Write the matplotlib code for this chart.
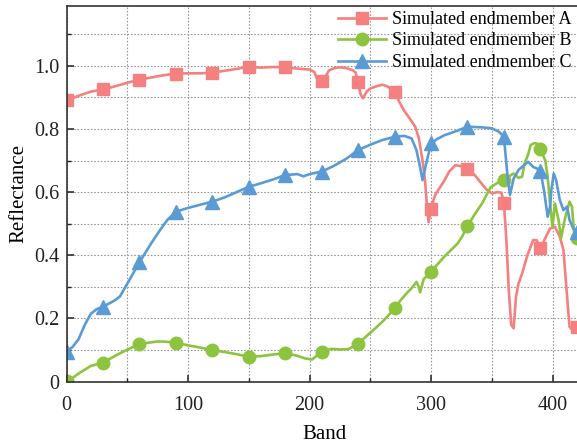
import matplotlib
matplotlib.use("Agg")
import matplotlib.pyplot as plt
from matplotlib.ticker import MultipleLocator, FuncFormatter

plt.rcParams['font.family'] = 'serif'
plt.rcParams['font.serif'] = ['Liberation Serif', 'DejaVu Serif']

# endmember A (red)
bands_a = [0, 10, 20, 30, 40, 50, 60, 70, 80, 90, 100, 110, 120, 130, 140, 150,
           160, 170, 180, 190, 200, 204, 207, 210, 213, 216, 220, 225, 230, 236,
           238, 240, 242, 244, 247, 250, 255, 260, 264, 270, 274, 278, 283, 287,
           290, 293, 295, 297, 298, 300, 302, 304, 306, 310, 315, 320, 325, 330,
           336, 341, 346, 350, 355, 358, 360, 362, 364, 366, 368, 370, 372, 375,
           379, 381, 384, 387, 390, 394, 398, 402, 406, 409, 412, 414, 417, 420]
refl_a = [0.890, 0.905, 0.918, 0.925, 0.935, 0.946, 0.956, 0.963, 0.970, 0.975,
          0.976, 0.976, 0.978, 0.984, 0.990, 0.997, 0.994, 0.996, 0.995, 0.991,
          0.988, 0.980, 0.950, 0.953, 0.965, 0.985, 0.992, 0.995, 0.993, 0.985,
          0.978, 0.948, 0.910, 0.897, 0.918, 0.928, 0.935, 0.940, 0.935, 0.918,
          0.885, 0.857, 0.830, 0.807, 0.770, 0.700, 0.640, 0.540, 0.505, 0.545,
          0.575, 0.595, 0.607, 0.630, 0.665, 0.685, 0.682, 0.672, 0.654, 0.630,
          0.607, 0.596, 0.600, 0.598, 0.565, 0.450, 0.290, 0.180, 0.169, 0.270,
          0.310, 0.343, 0.396, 0.417, 0.448, 0.448, 0.422, 0.454, 0.485, 0.490,
          0.459, 0.417, 0.269, 0.174, 0.161, 0.174]

# endmember B (green)
bands_b = [0, 5, 10, 20, 30, 41, 52, 60, 74, 80, 90, 100, 110, 120, 130, 140,
           150, 160, 170, 180, 190, 196, 202, 210, 218, 225, 232, 240, 248, 255,
           260, 265, 270, 275, 280, 285, 288, 290, 291, 294, 300, 305, 311, 316,
           322, 326, 330, 336, 342, 349, 355, 360, 365, 368, 372, 375, 377, 380,
           382, 385, 387, 390, 394, 396, 398, 400, 402, 405, 407, 410, 414, 416,
           418, 420]
refl_b = [0.003, 0.012, 0.026, 0.050, 0.060, 0.084, 0.105, 0.119, 0.127, 0.127,
          0.124, 0.115, 0.108, 0.100, 0.094, 0.087, 0.079, 0.081, 0.086, 0.090,
          0.082, 0.074, 0.070, 0.095, 0.104, 0.102, 0.103, 0.120, 0.148, 0.172,
          0.190, 0.210, 0.232, 0.258, 0.280, 0.300, 0.316, 0.300, 0.283, 0.325,
          0.346, 0.370, 0.396, 0.415, 0.438, 0.462, 0.493, 0.530, 0.564, 0.615,
          0.630, 0.638, 0.652, 0.659, 0.645, 0.649, 0.690, 0.720, 0.749, 0.755,
          0.754, 0.735, 0.701, 0.649, 0.564, 0.490, 0.564, 0.512, 0.454, 0.512,
          0.570, 0.554, 0.459, 0.455]

# endmember C (blue)
bands_c = [0, 5, 10, 15, 20, 25, 30, 40, 44, 50, 60, 70, 77, 83, 90, 100, 110,
           120, 130, 140, 150, 160, 170, 180, 190, 195, 200, 210, 220, 230, 240,
           250, 260, 270, 278, 284, 288, 291, 293, 296, 300, 305, 311, 320, 330,
           336, 342, 350, 356, 360, 363, 365, 368, 372, 376, 380, 384, 387, 390,
           393, 396, 398, 399, 401, 403, 406, 409, 412, 414, 417, 420]
refl_c = [0.095, 0.110, 0.135, 0.180, 0.215, 0.230, 0.237, 0.258, 0.270, 0.310,
          0.378, 0.440, 0.480, 0.512, 0.538, 0.550, 0.560, 0.570, 0.583, 0.600,
          0.617, 0.628, 0.640, 0.654, 0.657, 0.650, 0.657, 0.665, 0.683, 0.705,
          0.733, 0.750, 0.765, 0.775, 0.778, 0.770, 0.733, 0.680, 0.638, 0.690,
          0.754, 0.768, 0.780, 0.792, 0.807, 0.806, 0.805, 0.802, 0.791, 0.775,
          0.649, 0.591, 0.643, 0.670, 0.683, 0.696, 0.680, 0.675, 0.668, 0.606,
          0.522, 0.554, 0.606, 0.659, 0.638, 0.575, 0.543, 0.554, 0.512, 0.485,
          0.475]

labels = ["Simulated endmember A", "Simulated endmember B", "Simulated endmember C"]
colors = ["#F4817F", "#8DC43F", "#5B9BD5"]
markers = ["s", "o", "^"]


def marker_idx(bands):
    # a marker every 30 bands
    return [i for i, b in enumerate(bands) if b % 30 == 0]


fig = plt.figure(figsize=(5.77, 4.46), dpi=100)
ax = fig.add_axes([0.1153, 0.1442, 0.8949, 0.8430])

series = [(bands_a, refl_a), (bands_b, refl_b), (bands_c, refl_c)]
for (x, y), label, c, m in zip(series, labels, colors, markers):
    ms = 9 if m != "^" else 9.5
    ax.plot(x, y, color=c, lw=1.9, marker=m, ms=ms, markevery=marker_idx(x),
            label=label)

ax.set_xlim(0, 425)
ax.set_ylim(0, 1.19)
ax.xaxis.set_major_locator(MultipleLocator(100))
ax.xaxis.set_minor_locator(MultipleLocator(50))
ax.yaxis.set_major_locator(MultipleLocator(0.2))
ax.yaxis.set_minor_locator(MultipleLocator(0.1))
ax.yaxis.set_major_formatter(FuncFormatter(lambda v, p: "0" if abs(v) < 1e-9 else f"{v:.1f}"))

ax.grid(True, which="both", color="#9a9a9a", linestyle=(0, (1.5, 1.5)), lw=0.8)
ax.set_axisbelow(True)
ax.tick_params(which="both", direction="in", labelsize=14.5, colors="#222222",
               top=False, right=False)
ax.tick_params(which="major", length=5, width=1.1)
ax.tick_params(which="minor", length=3, width=1.0)
ax.tick_params(axis="x", pad=10)
ax.tick_params(axis="y", pad=5)
for s in ax.spines.values():
    s.set_color("#333333")
    s.set_linewidth(1.2)

ax.set_xlabel("Band", fontsize=15, labelpad=7.5)
ax.set_ylabel("Reflectance", fontsize=15, labelpad=4)

ax.legend(loc="upper right", bbox_to_anchor=(1.009, 1.0), bbox_transform=fig.transFigure,
          frameon=False, fontsize=13, handlelength=2.7, labelspacing=0.25,
          borderaxespad=0.2, handletextpad=0.3)

fig.savefig("out.png", dpi=100)
